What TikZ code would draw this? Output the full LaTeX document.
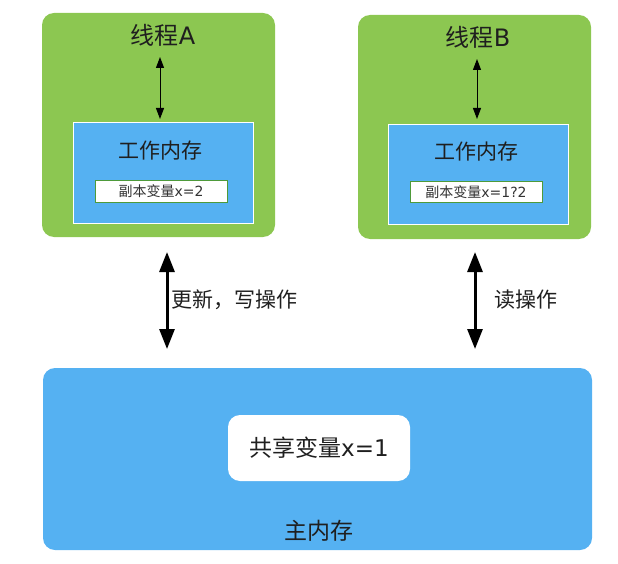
\documentclass[tikz,border=0pt]{standalone}
\usepackage{fontspec}
\setmainfont{DejaVu Sans}
\newfontfamily\cjk{Noto Sans CJK SC}
\usetikzlibrary{arrows.meta}
\definecolor{thgreen}{HTML}{8CC751}
\definecolor{memblue}{HTML}{55B1F2}
\definecolor{fieldborder}{HTML}{4E9A3A}
\tikzset{
  threadbox/.style={fill=thgreen, draw=none, rounded corners=12pt},
  workbox/.style={fill=memblue, draw=white, line width=1pt},
  fieldbox/.style={fill=white, draw=fieldborder, line width=0.8pt},
  mainbox/.style={fill=memblue, draw=none, rounded corners=12pt},
  sharedbox/.style={fill=white, draw=none, rounded corners=12pt},
  smallarrow/.style={{Triangle[width=8pt,length=11pt]}-{Triangle[width=8pt,length=11pt]}, line width=1pt, black},
  bigarrow/.style={{Triangle[width=15pt,length=20pt]}-{Triangle[width=15pt,length=20pt]}, line width=3pt, black},
  lbl/.style={font=\fontsize{21}{24}\selectfont, text=black!88, inner sep=0pt},
  ttl/.style={font=\fontsize{24}{27}\selectfont, text=black!88, inner sep=0pt},
  flbl/.style={font=\fontsize{14}{16}\selectfont, text=black!80, inner sep=0pt},
  big/.style={font=\fontsize{23}{26}\selectfont, text=black!88, inner sep=0pt},
}
\begin{document}
\begin{tikzpicture}[x=1pt,y=-1pt]
\useasboundingbox (0,0) rectangle (618,564);
% thread A
\path[threadbox] (42,13) rectangle (275,237);
\node[ttl] (tA) at (163,35) {{\cjk 线程}A};
\path[workbox] (73,123) rectangle (253,223);
\node[lbl] (wA) at (160,151) {\cjk 工作内存};
\node[fieldbox, minimum width=132pt, minimum height=22pt, inner sep=0pt] (fA) at (161,191) {};
\node[flbl] at (fA) {{\cjk 副本变量}x=2};
\coordinate (aA1) at (160,57);
\coordinate (aA2) at (160,119);
\draw[smallarrow] (aA1) -- (aA2);
% thread B
\path[threadbox] (358,15) rectangle (591,239);
\node[ttl] (tB) at (478,37) {{\cjk 线程}B};
\path[workbox] (388,125) rectangle (568,224);
\node[lbl] (wB) at (476,152) {\cjk 工作内存};
\node[fieldbox, minimum width=132pt, minimum height=21pt, inner sep=0pt] (fB) at (476,192) {};
\node[flbl] at (fB) {{\cjk 副本变量}x=1?2};
\coordinate (aB1) at (477,59);
\coordinate (aB2) at (477,119);
\draw[smallarrow] (aB1) -- (aB2);
% main memory
\path[mainbox] (43,368) rectangle (592,550);
\node[sharedbox, minimum width=182pt, minimum height=66pt] (sh) at (319,448) {};
\node[big] at (sh) {{\cjk 共享变量}x=1};
\node[big] (mm) at (319,531) {\cjk 主内存};
% big arrows
\coordinate (b1) at (167,252);
\coordinate (b2) at (167,349);
\draw[bigarrow] (b1) -- (b2);
\node[lbl, anchor=west] (l1) at (171,300) {\cjk 更新，写操作};
\coordinate (c1) at (475,252);
\coordinate (c2) at (475,349);
\draw[bigarrow] (c1) -- (c2);
\node[lbl, anchor=west] (l2) at (494,300) {\cjk 读操作};
\end{tikzpicture}
\end{document}
